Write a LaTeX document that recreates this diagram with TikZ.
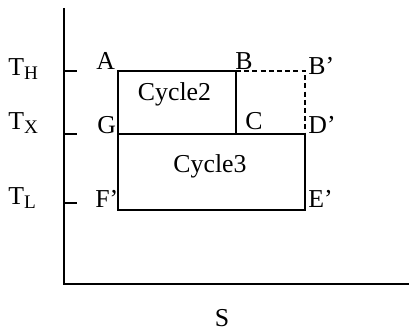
\documentclass[tikz,border=0pt]{standalone}
\usepackage{fontspec}
\setmainfont{Liberation Serif}
\usetikzlibrary{positioning}
\newcommand{\tempsub}[1]{T\raisebox{-1.7pt}{\fontsize{9.6}{10}\selectfont #1}}

\begin{document}
\begin{tikzpicture}[x=0.5pt, y=-0.5pt,
    every node/.style={font=\fontsize{12.9}{15}\selectfont, inner sep=0pt},
    lbl/.style={anchor=base west},
    axis/.style={line width=1pt},
    cyc/.style={line width=1pt},
    extra/.style={line width=1pt, dash pattern=on 2.5pt off 1.6pt}]
  \useasboundingbox (0,0) rectangle (409,335);
  \coordinate (O) at (64,284);
  \coordinate (ytop) at (64,8);
  \coordinate (xend) at (409,284);
  \coordinate (tH) at (64,71);
  \coordinate (tX) at (64,134.5);
  \coordinate (tL) at (64,203.5);
  \coordinate (A) at (118,71);
  \coordinate (B) at (236,71);
  \coordinate (Bp) at (305.5,71);
  \coordinate (G) at (118,134.5);
  \coordinate (C) at (236,134.5);
  \coordinate (Dp) at (305.5,134.5);
  \coordinate (Fp) at (118,210.5);
  \coordinate (Ep) at (305.5,210.5);
  \node[lbl] (labTH) at (8,76) {\tempsub{H}};
  \node[lbl] (labTX) at (8,130) {\tempsub{X}};
  \node[lbl] (labTL) at (8,205) {\tempsub{L}};
  \node[lbl] (labA) at (96,70) {A};
  \node[lbl] (labB) at (235,70) {B};
  \node[lbl] (labBp) at (308,75) {B’};
  \node[lbl] (labG) at (97,134) {G};
  \node[lbl] (labC) at (245,130) {C};
  \node[lbl] (labDp) at (308,134) {D’};
  \node[lbl] (labFp) at (95,208) {F’};
  \node[lbl] (labEp) at (308,208) {E’};
  \node[anchor=base] (cyc2) at (174.5,101) {Cycle2};
  \node[anchor=base] (cyc3) at (210,173) {Cycle3};
  \node[anchor=base] (labS) at (222,327) {S};
  \draw[axis] (ytop) -- (O) -- (xend);
  \draw[axis] (tH) -- ++(13,0);
  \draw[axis] (tX) -- ++(13,0);
  \draw[axis] (tL) -- ++(13,0);
  \draw[cyc] (C) -- (B) -- (A) -- (Fp) -- (Ep) -- (Dp) -- (G);
  \draw[extra] (B) -- (Bp) -- (Dp);
\end{tikzpicture}
\end{document}
